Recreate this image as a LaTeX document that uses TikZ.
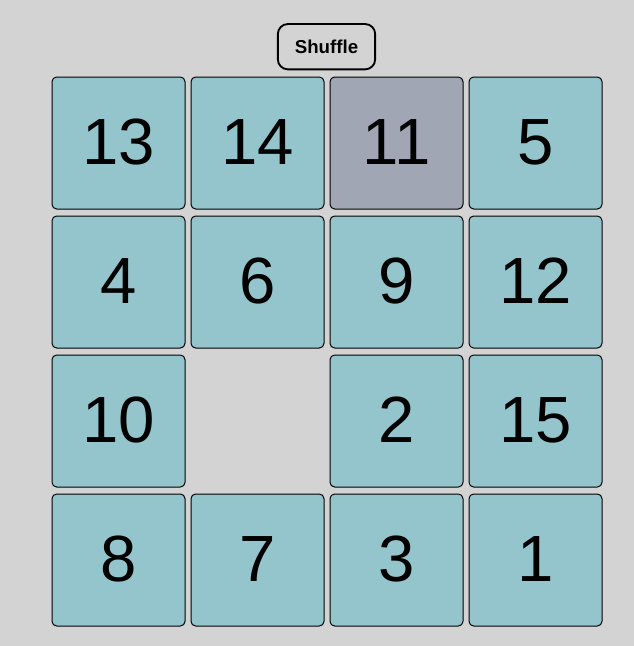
\documentclass[tikz,border=0pt]{standalone}
\usepackage{fontspec}
\setmainfont{Liberation Sans}
\definecolor{bg}{HTML}{D3D3D3}
\definecolor{tile}{HTML}{94C5CC}
\definecolor{tilesel}{HTML}{A0A6B4}
\begin{document}
\begin{tikzpicture}[x=0.75pt,y=-0.75pt,
  tilebox/.style={draw=black,line width=0.75pt,fill=tile,rounded corners=3.5pt,minimum width=99.75pt,minimum height=99pt,inner sep=0pt,text depth=1.5pt,font=\fontsize{49}{49}\selectfont},
  selbox/.style={tilebox,fill=tilesel},
  btn/.style={draw=black,line width=1.4pt,rounded corners=7.5pt,fill=bg,minimum width=73pt,minimum height=34pt,inner sep=0pt,font=\bfseries\fontsize{14}{14}\selectfont}]
\fill[bg] (0,0) rectangle (634,646);
\useasboundingbox (0,0) rectangle (634,646);
\node[btn] (shuffle) at (326.5,46.7) {Shuffle};
\node[tilebox] (t13) at (118.5,143) {13};
\node[tilebox] (t14) at (257.5,143) {14};
\node[selbox]  (t11) at (396.5,143) {11};
\node[tilebox] (t5)  at (535.5,143) {5};
\node[tilebox] (t4)  at (118.5,282) {4};
\node[tilebox] (t6)  at (257.5,282) {6};
\node[tilebox] (t9)  at (396.5,282) {9};
\node[tilebox] (t12) at (535.5,282) {12};
\node[tilebox] (t10) at (118.5,421) {10};
\node[tilebox] (t2)  at (396.5,421) {2};
\node[tilebox] (t15) at (535.5,421) {15};
\node[tilebox] (t8)  at (118.5,560) {8};
\node[tilebox] (t7)  at (257.5,560) {7};
\node[tilebox] (t3)  at (396.5,560) {3};
\node[tilebox] (t1)  at (535.5,560) {1};
\end{tikzpicture}
\end{document}
